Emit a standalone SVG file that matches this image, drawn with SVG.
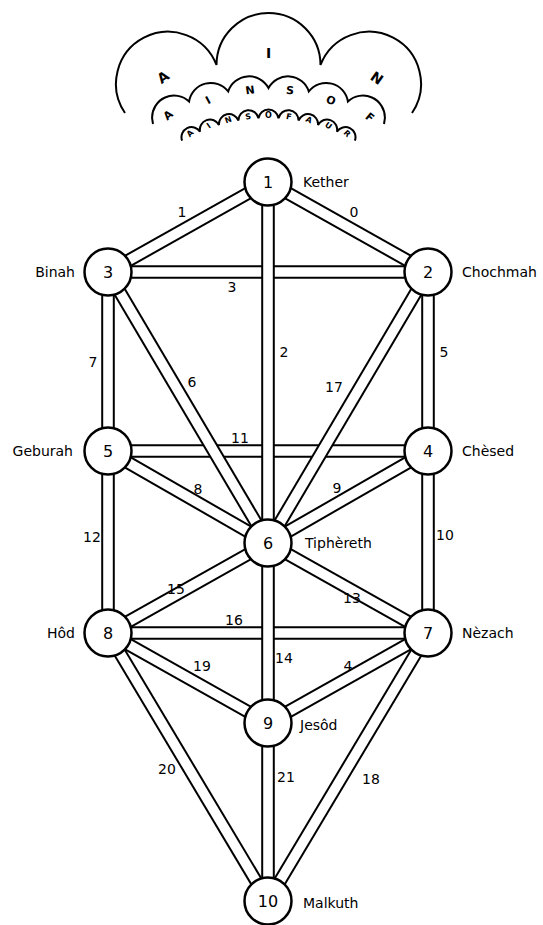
<svg xmlns="http://www.w3.org/2000/svg" width="543" height="925" viewBox="0 0 543 925">
<style>
.o{stroke:#000;stroke-width:13.6;stroke-linecap:butt}
.i{stroke:#fff;stroke-width:9.6;stroke-linecap:butt}
.arc{fill:none;stroke:#000;stroke-width:2}
.node circle{fill:#fff;stroke:#000;stroke-width:2.5}
text{font-family:"DejaVu Sans","Liberation Sans",sans-serif;fill:#000}
.num{font-size:16px;text-anchor:middle}
.name{font-size:14px}
.lab{font-size:14px;text-anchor:middle}
.l1{font-size:14px;font-weight:bold;text-anchor:middle}
.l2{font-size:11px;font-weight:bold;text-anchor:middle}
.l3{font-size:8px;font-weight:bold;text-anchor:middle}
</style>
<rect width="543" height="925" fill="#fff"/>
<g id="ain-soph-aur">
<path class="arc" d="M125,113 A52,52 0 1 1 216.5,65 A52,52 0 1 1 320.5,65 A52,52 0 1 1 412,113"/>
<text class="l1" transform="translate(163,77) rotate(-35)" y="5">A</text>
<text class="l1" x="268.5" y="58">I</text>
<text class="l1" transform="translate(377,78) rotate(35)" y="5">N</text>
<path class="arc" d="M153,124 L152.1,118.1 A22,22 0 0 1 189.1,101.5 A22,22 0 0 1 228.2,91.4 A22,22 0 0 1 268.5,88 A22,22 0 0 1 308.8,91.4 A22,22 0 0 1 347.9,101.5 A22,22 0 0 1 384.9,118.1 L384,124"/>
<text class="l2" transform="translate(168,115) rotate(-40)" y="4">A</text>
<text class="l2" transform="translate(208,100) rotate(-28)" y="4">I</text>
<text class="l2" transform="translate(250,90) rotate(-8)" y="4">N</text>
<text class="l2" transform="translate(290,90) rotate(5)" y="4">S</text>
<text class="l2" transform="translate(331,100) rotate(20)" y="4">O</text>
<text class="l2" transform="translate(370,117) rotate(40)" y="4">F</text>
<path class="arc" d="M182.1,140.7 A10.1,10.1 0 0 1 200.1,131.8 A10.1,10.1 0 0 1 219,125.1 A10.1,10.1 0 0 1 238.5,120.6 A10.1,10.1 0 0 1 258.5,118.3 A10.1,10.1 0 0 1 278.5,118.3 A10.1,10.1 0 0 1 298.5,120.6 A10.1,10.1 0 0 1 318,125.1 A10.1,10.1 0 0 1 336.9,131.8 A10.1,10.1 0 0 1 354.9,140.7"/>
<text class="l3" transform="translate(189.7,133.3) rotate(-45)" y="3">A</text>
<text class="l3" transform="translate(208.4,125.4) rotate(-35)" y="3">I</text>
<text class="l3" transform="translate(228,119.6) rotate(-20)" y="3">N</text>
<text class="l3" transform="translate(248.1,116.2) rotate(-10)" y="3">S</text>
<text class="l3" transform="translate(268.5,115) rotate(0)" y="3">O</text>
<text class="l3" transform="translate(288.9,116.2) rotate(10)" y="3">F</text>
<text class="l3" transform="translate(309,119.6) rotate(25)" y="3">A</text>
<text class="l3" transform="translate(328.6,125.4) rotate(35)" y="3">U</text>
<text class="l3" transform="translate(347.3,133.3) rotate(45)" y="3">R</text>
</g>
<g id="connectors">
<line class="o" x1="108" y1="451" x2="428" y2="451"/><line class="i" x1="108" y1="451" x2="428" y2="451"/>
<line class="o" x1="108" y1="272" x2="428" y2="272"/><line class="i" x1="108" y1="272" x2="428" y2="272"/>
<line class="o" x1="108" y1="633" x2="428" y2="633"/><line class="i" x1="108" y1="633" x2="428" y2="633"/>
<line class="o" x1="268" y1="182" x2="428" y2="272"/><line class="i" x1="268" y1="182" x2="428" y2="272"/>
<line class="o" x1="268" y1="182" x2="108" y2="272"/><line class="i" x1="268" y1="182" x2="108" y2="272"/>
<line class="o" x1="108" y1="272" x2="108" y2="633"/><line class="i" x1="108" y1="272" x2="108" y2="633"/>
<line class="o" x1="428" y1="272" x2="428" y2="633"/><line class="i" x1="428" y1="272" x2="428" y2="633"/>
<line class="o" x1="108" y1="272" x2="268" y2="543"/><line class="i" x1="108" y1="272" x2="268" y2="543"/>
<line class="o" x1="428" y1="272" x2="268" y2="543"/><line class="i" x1="428" y1="272" x2="268" y2="543"/>
<line class="o" x1="108" y1="451" x2="268" y2="543"/><line class="i" x1="108" y1="451" x2="268" y2="543"/>
<line class="o" x1="428" y1="451" x2="268" y2="543"/><line class="i" x1="428" y1="451" x2="268" y2="543"/>
<line class="o" x1="108" y1="633" x2="268" y2="543"/><line class="i" x1="108" y1="633" x2="268" y2="543"/>
<line class="o" x1="428" y1="633" x2="268" y2="543"/><line class="i" x1="428" y1="633" x2="268" y2="543"/>
<line class="o" x1="108" y1="633" x2="268" y2="723"/><line class="i" x1="108" y1="633" x2="268" y2="723"/>
<line class="o" x1="428" y1="633" x2="268" y2="723"/><line class="i" x1="428" y1="633" x2="268" y2="723"/>
<line class="o" x1="108" y1="633" x2="268" y2="901"/><line class="i" x1="108" y1="633" x2="268" y2="901"/>
<line class="o" x1="428" y1="633" x2="268" y2="901"/><line class="i" x1="428" y1="633" x2="268" y2="901"/>
<line class="o" x1="268" y1="182" x2="268" y2="901"/><line class="i" x1="268" y1="182" x2="268" y2="901"/>
</g>
<g id="path-labels">
<text class="lab" x="182" y="217">1</text>
<text class="lab" x="354" y="217">0</text>
<text class="lab" x="232" y="292">3</text>
<text class="lab" x="284" y="357">2</text>
<text class="lab" x="93" y="367">7</text>
<text class="lab" x="444" y="357">5</text>
<text class="lab" x="192" y="387">6</text>
<text class="lab" x="334" y="392">17</text>
<text class="lab" x="240" y="443">11</text>
<text class="lab" x="198" y="494">8</text>
<text class="lab" x="337" y="493">9</text>
<text class="lab" x="92" y="542">12</text>
<text class="lab" x="445" y="540">10</text>
<text class="lab" x="176" y="594">15</text>
<text class="lab" x="352" y="603">13</text>
<text class="lab" x="234" y="625">16</text>
<text class="lab" x="202" y="671">19</text>
<text class="lab" x="284" y="663">14</text>
<text class="lab" x="348" y="671">4</text>
<text class="lab" x="167" y="774">20</text>
<text class="lab" x="286" y="782">21</text>
<text class="lab" x="371" y="784">18</text>
</g>
<g id="n1" class="node"><circle cx="268" cy="182" r="23.5"/><text class="num" x="268" y="188">1</text><text class="name" x="303" y="187">Kether</text></g>
<g id="n2" class="node"><circle cx="428" cy="272" r="23.5"/><text class="num" x="428" y="278">2</text><text class="name" x="462" y="277">Chochmah</text></g>
<g id="n3" class="node"><circle cx="108" cy="272" r="23.5"/><text class="num" x="108" y="278">3</text><text class="name" x="75" y="277" text-anchor="end">Binah</text></g>
<g id="n4" class="node"><circle cx="428" cy="451" r="23.5"/><text class="num" x="428" y="457">4</text><text class="name" x="462" y="456">Chèsed</text></g>
<g id="n5" class="node"><circle cx="108" cy="451" r="23.5"/><text class="num" x="108" y="457">5</text><text class="name" x="73" y="456" text-anchor="end">Geburah</text></g>
<g id="n6" class="node"><circle cx="268" cy="543" r="23.5"/><text class="num" x="268" y="549">6</text><text class="name" x="305" y="548">Tiphèreth</text></g>
<g id="n7" class="node"><circle cx="428" cy="633" r="23.5"/><text class="num" x="428" y="639">7</text><text class="name" x="462" y="638">Nèzach</text></g>
<g id="n8" class="node"><circle cx="108" cy="633" r="23.5"/><text class="num" x="108" y="639">8</text><text class="name" x="75" y="638" text-anchor="end">Hôd</text></g>
<g id="n9" class="node"><circle cx="268" cy="723" r="23.5"/><text class="num" x="268" y="729">9</text><text class="name" x="300" y="730">Jesôd</text></g>
<g id="n10" class="node"><circle cx="268" cy="901" r="23.5"/><text class="num" x="268" y="907">10</text><text class="name" x="303" y="908">Malkuth</text></g>
</svg>
